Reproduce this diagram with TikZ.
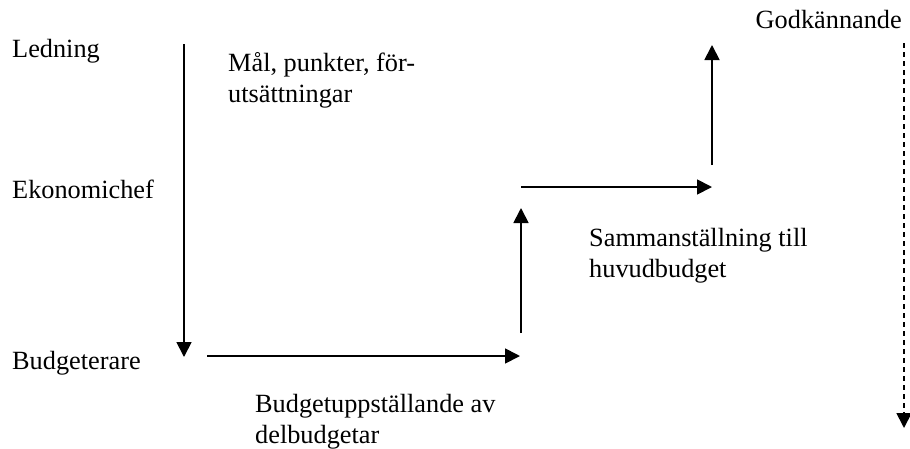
\documentclass[tikz,border=0pt]{standalone}
\usepackage{fontspec}
\setmainfont{Liberation Serif}
\usetikzlibrary{arrows.meta}
\begin{document}
\begin{tikzpicture}[x=1pt,y=-1pt,
  label/.style={anchor=base west,inner sep=0pt,align=left,
    font=\fontsize{26.3pt}{30.5pt}\selectfont},
  flow/.style={line width=1.8pt,-{Triangle[length=15pt,width=15pt]}},
  approval/.style={flow,dashed,dash pattern=on 5pt off 4pt}]
\useasboundingbox (0,0) rectangle (910,448);

% level labels
\node[label] (ledning) at (12,57) {Ledning};
\node[label] (ekonomichef) at (12,198) {Ekonomichef};
\node[label] (budgeterare) at (12,369) {Budgeterare};
\node[label,anchor=base east] (godk) at (902,28) {Godkännande};

% step descriptions (base anchor sits on the last line)
\node[label] (mal) at (228,102) {Mål, punkter, för-\\utsättningar};
\node[label] (delbudget) at (255,443) {Budgetuppställande av\\delbudgetar};
\node[label] (samman) at (589,277) {Sammanställning till\\huvudbudget};

% connector end points
\coordinate (a1) at (184,44);
\coordinate (a2) at (184,357);
\coordinate (b1) at (207,356);
\coordinate (b2) at (520,356);
\coordinate (c1) at (521,333);
\coordinate (c2) at (521,208);
\coordinate (d1) at (521,187);
\coordinate (d2) at (712,187);
\coordinate (e1) at (712,165);
\coordinate (e2) at (712,45);
\coordinate (f1) at (904,43);
\coordinate (f2) at (904,428);

% budget flow
\draw[flow] (a1) -- (a2);
\draw[flow] (b1) -- (b2);
\draw[flow] (c1) -- (c2);
\draw[flow] (d1) -- (d2);
\draw[flow] (e1) -- (e2);
\draw[approval] (f1) -- (f2);
\end{tikzpicture}
\end{document}
